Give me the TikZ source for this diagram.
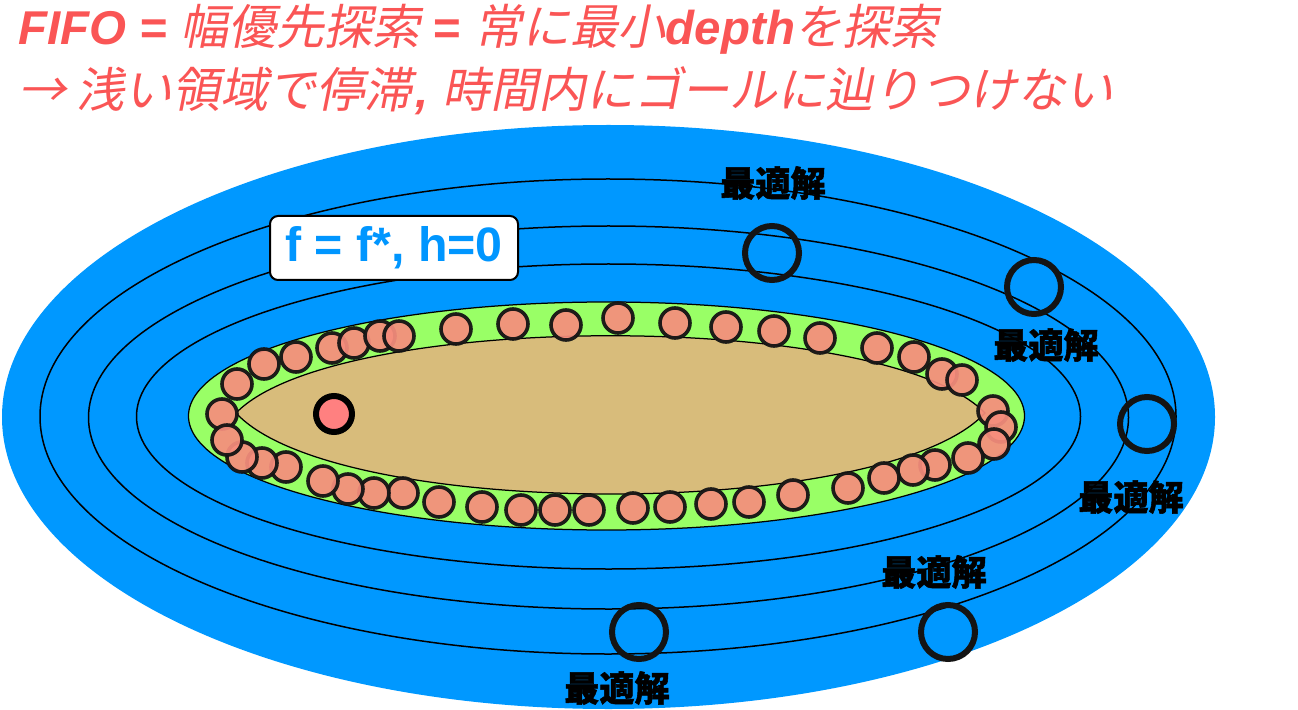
\documentclass[tikz,border=0pt]{standalone}
\usepackage{fontspec}
\setmainfont{Liberation Sans}
\newfontfamily\jptitle[FakeSlant=0.2,Scale=1.01]{Noto Sans CJK JP}
\newfontfamily\jplabel[BoldFeatures={FakeBold=1.5}]{Noto Sans CJK JP}

\definecolor{seablue}{RGB}{0,152,255}
\definecolor{ringgreen}{RGB}{153,255,102}
\definecolor{sand}{RGB}{216,188,123}
\definecolor{salmon}{RGB}{246,141,125}
\definecolor{startred}{RGB}{255,128,128}
\definecolor{titlered}{RGB}{250,85,85}
\definecolor{textblue}{RGB}{0,150,255}

\begin{document}
\begin{tikzpicture}[x=0.2mm,y=-0.2mm]
  \tikzstyle{contour}=[draw=black,line width=0.3mm]
  \tikzstyle{frontier}=[circle,draw=black!92,fill=salmon,line width=0.72mm,minimum size=6mm,inner sep=0pt,fill opacity=0.93,draw opacity=0.95]
  \tikzstyle{goal}=[circle,draw=black!92,line width=1.2mm,minimum size=10.8mm,inner sep=0pt]
  \tikzstyle{goallabel}=[font=\jplabel\bfseries\fontsize{20}{24}\selectfont,inner sep=0pt]
  \tikzstyle{titleline}=[anchor=base west,inner sep=0pt,text=titlered,font=\fontsize{27}{32}\selectfont]

  \useasboundingbox (0,0) rectangle (1298,710);

  % search space and f contours
  \fill[seablue] (608.5,417) ellipse (606.5 and 292);
  \draw[contour] (608,416.5) ellipse (568 and 237.5);
  \draw[contour] (608.5,417.5) ellipse (520 and 191.5);
  \draw[contour] (608.5,416.5) ellipse (472 and 152.5);

  % frontier ring and explored region
  \draw[fill=ringgreen,line width=0.25mm] (606.5,416) ellipse (418 and 114);
  \coordinate (lensL) at (236,413);
  \coordinate (lensR) at (985,413);
  \draw[fill=sand,line width=0.25mm] (lensL) .. controls (336,310) and (885,310) .. (lensR)
    .. controls (885,521) and (336,521) .. (lensL) -- cycle;

  \foreach \pos [count=\i] in {(222,414),(237,384),(264,364),(296,357),(332,348),(354,343),
      (380,336),(399,336),(456,329),(513,324),(566,325),(618,318),(675,323),(726,327),
      (774,331),(820,338),(877,348),(914,357),(942,374),(962,380),(993,411),(1001,427),
      (994,444),(968,458),(935,465),(913,470),(884,478),(848,488),(793,495),(749,502),
      (711,504),(670,507),(633,508),(589,510),(555,510),(521,510),(482,507),(439,502),
      (403,493),(374,493),(348,489),(323,481),(286,467),(262,463),(242,457),(227,440)}
    \node[frontier] (p\i) at \pos {};

  \node[circle,draw=black,fill=startred,line width=1.2mm,minimum size=7.2mm,inner sep=0pt] (start) at (334,414) {};

  \node[draw=black,fill=white,rounded corners=1.6mm,line width=0.4mm,minimum width=49.6mm,minimum height=12.8mm,
    text=textblue,font=\bfseries\fontsize{27.5}{32}\selectfont] (hzero) at (394,248) {f = f*, h=0};

  % optimal solutions
  \node[goal] (opt1) at (772,253) {};
  \node[goal] (opt2) at (1034,287) {};
  \node[goal] (opt3) at (1147,424) {};
  \node[goal] (opt4) at (948,632) {};
  \node[goal] (opt5) at (639,632) {};
  \node[goallabel] (lab1) at (773,183) {最適解};
  \node[goallabel] (lab2) at (1046,345) {最適解};
  \node[goallabel] (lab3) at (1131,497) {最適解};
  \node[goallabel] (lab4) at (934,572) {最適解};
  \node[goallabel] (lab5) at (617,688) {最適解};

  \node[titleline] (title1) at (18,45) {{\bfseries\itshape FIFO =} {\jptitle 幅優先探索} {\bfseries =} {\jptitle 常に最小}{\bfseries\itshape depth}{\jptitle を探索}};
  \node[titleline] (title2) at (18,108) {{\jptitle → 浅い領域で停滞}\kern2pt{\bfseries\itshape ,} {\jptitle 時間内にゴールに辿りつけない}};
\end{tikzpicture}
\end{document}
